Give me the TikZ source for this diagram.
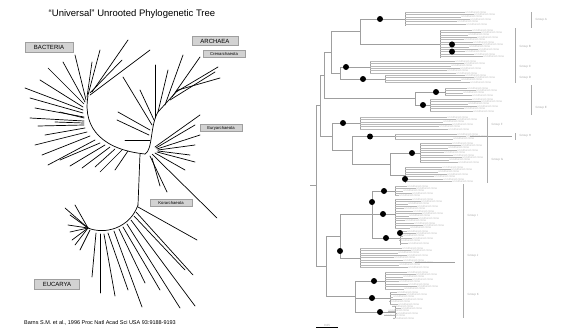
\documentclass[tikz,border=0pt]{standalone}
\usepackage{fontspec}
\setmainfont{Liberation Sans}
\begin{document}
\begin{tikzpicture}[x=1pt,y=-1pt,
  branch/.style={line width=0.7pt,line cap=round},
  tagbox/.style={draw=gray!75,fill=gray!35,inner sep=1pt,font=\fontsize{6}{6}\selectfont},
  smalltag/.style={tagbox,font=\fontsize{4.2}{4.2}\selectfont,minimum width=42pt,minimum height=7pt},
  cladeline/.style={gray!75,line width=0.45pt},
  tipline/.style={gray!55,line width=0.35pt},
  tiplabel/.style={gray!55,inner sep=0.5pt,anchor=west,font=\fontsize{2.8}{3}\selectfont},
  support/.style={circle,fill=black,inner sep=0pt,minimum size=6pt},
  groupbar/.style={gray!65,line width=1pt},
  grouplabel/.style={gray!70,anchor=west,inner sep=0.5pt,font=\fontsize{3}{3.5}\selectfont}]

\useasboundingbox (0,0) rectangle (566,332);

\node (title) at (132,14) {\fontsize{9.5}{11}\selectfont ``Universal'' Unrooted Phylogenetic Tree};

% left tree: backbone
\draw[branch] (88,96) .. controls (82,130) and (105,150) .. (145,154);
\draw[branch] (145,154) .. controls (153,150) and (150,125) .. (158,112) -- (178,90);
\draw[branch] (140,154) -- (138,205);
\draw[branch] (138,205) .. controls (130,228) and (105,235) .. (88,228);

\foreach \xa/\ya/\xb/\yb in {90/95/150/50, 92/92/128/40, 90/93/122/60, 88/95/100/50,
    87/97/92/62, 86/100/75/55, 85/102/63/62, 84/104/48/68, 83/107/40/80,
    83/110/25/88, 83/113/30/98, 84/117/35/108, 84/121/30/118, 84/125/38/126,
    85/128/45/135, 87/132/35/145, 90/136/42/155, 95/140/48/165, 100/143/60/160,
    105/145/70/166, 110/147/82/168, 115/149/95/167, 122/150/100/172, 128/151/115/170,
    84/118/60/112, 84/123/55/122}
  \draw[branch] (\xa,\ya) -- (\xb,\yb);

\foreach \xa/\ya/\xb/\yb in {152/125/123/77, 154/120/140/90, 155/118/155/65,
    158/112/168/70, 165/105/183/55, 172/97/200/57, 176/92/218/67, 178/90/220/78,
    170/100/215/72, 150/130/118/112, 149/135/117/120, 150/140/125/140,
    155/147/200/115, 156/148/195/125, 157/149/200/135, 158/150/195/145,
    158/151/190/155, 157/152/195/162, 155/153/185/170, 152/154/217/218,
    150/156/167/192, 152/158/160/186}
  \draw[branch] (\xa,\ya) -- (\xb,\yb);

\foreach \xa/\ya/\xb/\yb in {138/207/197/240, 136/212/193/275, 134/216/185/270,
    131/220/195/306, 127/224/180/308, 123/227/160/290, 119/229/145/283,
    114/231/142/307, 108/233/128/290, 104/234/115/296, 100/234/100/293,
    96/233/92/277, 88/228/65/208, 88/228/70/215, 88/228/75/205, 88/228/68/225,
    88/228/70/232, 88/228/72/240, 88/228/75/245, 90/230/80/250}
  \draw[branch] (\xa,\ya) -- (\xb,\yb);

\node[tagbox,minimum width=48pt,minimum height=10pt] (bacteria) at (49,47) {BACTERIA};
\node[tagbox,minimum width=46pt,minimum height=9pt] (archaea) at (215,41) {ARCHAEA};
\node[smalltag] (cren) at (224,54) {Crenarchaeota};
\node[smalltag] (eury) at (221,128) {Euryarchaeota};
\node[smalltag] (kor) at (171,203) {Korarchaeota};
\node[tagbox,minimum width=45pt,minimum height=10pt] (eucarya) at (57,284) {EUCARYA};
\node (cite) at (100,323) {\fontsize{5.5}{6}\selectfont Barns S.M. et al., 1996 Proc Natl Acad Sci USA 93:9188-9193};

% right tree: tip groups
\foreach \xn/\ya/\yb/\xe [count=\g] in {405/12/26/478, 440/30/58/485, 370/61/73/468,
    385/75/83/478, 445/88/96/480, 430/99/111/485, 360/117/129/460, 395/134/139/470,
    420/143/163/465, 405/167/183/455, 395/186/196/420, 395/199/229/425,
    400/231/245/420, 360/248/268/415, 385/272/290/420, 390/292/304/410, 395/306/318/405}
{
  \draw[cladeline] (\xn,\ya) -- (\xn,\yb);
  \pgfmathsetmacro\ys{\ya+2.4}
  \foreach \yy [count=\k] in {\ya,\ys,...,\yb} {
    \pgfmathsetmacro\xt{\xe-mod(\k*13,22)}
    \draw[tipline] (\xn,\yy) -- (\xt,\yy) node[tiplabel] (t\g-\k) {uncultured clone};
  }
}

\foreach \x/\ya/\yb in {360/19/44, 340/67/79, 415/92/105, 331/31.5/73, 324/52/98.5,
    390/153/175, 352/136.5/164, 332/123/150, 320/75/136, 372/191/238, 340/214/258,
    355/281/312, 326/236/296, 316/105/266}
  \draw[cladeline] (\x,\ya) -- (\x,\yb);

\foreach \xa/\xb/\y in {360/405/19, 360/440/44, 340/370/67, 340/385/79, 415/445/92,
    415/430/105, 331/360/31.5, 331/340/73, 324/331/52, 324/415/98.5, 390/420/153,
    390/405/175, 352/395/136.5, 352/390/164, 332/360/123, 332/352/150, 320/324/75,
    320/332/136, 372/395/191, 372/395/214, 372/400/238, 340/372/214, 340/360/258,
    355/385/281, 355/390/298, 355/395/312, 326/340/236, 326/355/296, 316/320/105,
    316/326/266, 310/316/185, 470/512/136.5, 415/455/262}
  \draw[cladeline] (\xa,\y) -- (\xb,\y);

\foreach \x/\y [count=\d] in {380/19, 452/44.4, 452/51.6, 346/67, 363/79, 436/92,
    423/105, 343/123, 370/136.5, 412/153, 405/179, 384/191, 372/202, 383/214,
    400/233, 386/238, 340/251, 374/281, 372/298, 380/312}
  \node[support] (s\d) at (\x,\y) {};

\foreach \x/\ya/\yb in {531/12/28, 515/28/83, 531/85/115, 487/117/183, 515/133/140, 463/184/318}
  \draw[groupbar] (\x,\ya) -- (\x,\yb);

\foreach \x/\y/\t [count=\j] in {535/20/Group A, 519/47/Group B, 519/67/Group C,
    519/78/Group D, 535/108/Group E, 491/125/Group F, 491/160/Group G, 519/136/Group H,
    467/216/Group I, 467/256/Group J, 467/295/Group K}
  \node[grouplabel] (grp\j) at (\x,\y) {\t};

\draw[line width=0.8pt] (316,327) -- (338,327) node[grouplabel,anchor=south,midway] (scale) {0.05};

\end{tikzpicture}
\end{document}
